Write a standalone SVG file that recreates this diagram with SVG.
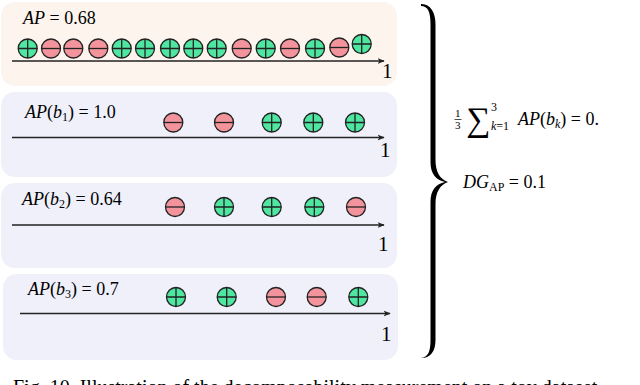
<svg xmlns="http://www.w3.org/2000/svg" xmlns:xlink="http://www.w3.org/1999/xlink" width="640" height="385" viewBox="0 0 640 385">
<style>
.math{font-family:"Liberation Serif","DejaVu Serif",serif;font-size:18px;fill:#000}
.sm{font-family:"Liberation Serif","DejaVu Serif",serif;font-size:12px;fill:#000}
.it{font-style:italic}
.one{font-family:"Liberation Serif","DejaVu Serif",serif;font-size:21px;fill:#000}
.axis{stroke:#222;stroke-width:1.5;fill:none}
.cap{font-family:"Liberation Serif","DejaVu Serif",serif;font-size:20px;fill:#000}
</style>
<defs>
<marker id="arr" viewBox="0 0 10 10" refX="9" refY="5" markerWidth="7" markerHeight="7" markerUnits="userSpaceOnUse" orient="auto">
<path d="M0,1 L10,5 L0,9 L2.5,5 Z" fill="#222"/>
</marker>
<g id="pos">
<circle r="9.5" fill="#4fe6a2" stroke="#222" stroke-width="1.3"/>
<path d="M-9.5,0 H9.5 M0,-9.5 V9.5" stroke="#222" stroke-width="1.3"/>
</g>
<g id="neg">
<circle r="9.5" fill="#f3939c" stroke="#222" stroke-width="1.3"/>
<path d="M-9.5,0 H9.5" stroke="#222" stroke-width="1.3"/>
</g>
</defs>

<g id="panel0">
<rect x="1" y="2" width="396" height="84" rx="14" fill="#fdf4ee"/>
<text class="math" x="23" y="24"><tspan class="it">AP</tspan> = 0.68</text>
<use xlink:href="#pos" x="27.7" y="48.5"/>
<use xlink:href="#neg" x="51" y="48.5"/>
<use xlink:href="#neg" x="73.3" y="48.5"/>
<use xlink:href="#neg" x="98.3" y="48.5"/>
<use xlink:href="#pos" x="121.7" y="48.5"/>
<use xlink:href="#pos" x="145" y="48.5"/>
<use xlink:href="#pos" x="170" y="48.5"/>
<use xlink:href="#pos" x="193.3" y="48.5"/>
<use xlink:href="#pos" x="216.7" y="48.5"/>
<use xlink:href="#neg" x="241.7" y="48.5"/>
<use xlink:href="#pos" x="265.7" y="48.5"/>
<use xlink:href="#neg" x="290" y="48.5"/>
<use xlink:href="#pos" x="315" y="48.5"/>
<use xlink:href="#neg" x="339.3" y="47.5"/>
<use xlink:href="#pos" x="361.7" y="44"/>
<text class="one" x="382" y="78">1</text>
</g>

<g id="panel1">
<rect x="1" y="92" width="396" height="85" rx="14" fill="#f0f0fb"/>
<text class="math" x="25" y="118"><tspan class="it">AP</tspan>(<tspan class="it">b</tspan><tspan style="font-size:12px" dy="3">1</tspan><tspan dy="-3">) = 1.0</tspan></text>
<use xlink:href="#neg" x="173.3" y="122.5"/>
<use xlink:href="#neg" x="224" y="122.5"/>
<use xlink:href="#pos" x="271.7" y="122.5"/>
<use xlink:href="#pos" x="313.3" y="122.5"/>
<use xlink:href="#pos" x="355" y="122.5"/>
<text class="one" x="380" y="157">1</text>
</g>

<g id="panel2">
<rect x="1" y="183" width="396" height="85" rx="14" fill="#f0f0fb"/>
<text class="math" x="22" y="205"><tspan class="it">AP</tspan>(<tspan class="it">b</tspan><tspan style="font-size:12px" dy="3">2</tspan><tspan dy="-3">) = 0.64</tspan></text>
<use xlink:href="#neg" x="175" y="207"/>
<use xlink:href="#pos" x="224" y="207"/>
<use xlink:href="#pos" x="271.7" y="207"/>
<use xlink:href="#pos" x="314.3" y="207"/>
<use xlink:href="#neg" x="356" y="207"/>
<text class="one" x="378" y="251">1</text>
</g>

<g id="panel3">
<rect x="3" y="274" width="395" height="86" rx="14" fill="#f0f0fb"/>
<text class="math" x="28" y="295"><tspan class="it">AP</tspan>(<tspan class="it">b</tspan><tspan style="font-size:12px" dy="3">3</tspan><tspan dy="-3">) = 0.7</tspan></text>
<use xlink:href="#pos" x="176" y="297"/>
<use xlink:href="#pos" x="226.7" y="297"/>
<use xlink:href="#neg" x="276" y="297"/>
<use xlink:href="#neg" x="316.7" y="297"/>
<use xlink:href="#pos" x="358.3" y="297"/>
<text class="one" x="381" y="341">1</text>
</g>

<g id="connectors">
<line class="axis" x1="12" y1="61" x2="384" y2="61" marker-end="url(#arr)"/>
<line class="axis" x1="12" y1="137.5" x2="384" y2="137.5" marker-end="url(#arr)"/>
<line class="axis" x1="12" y1="225" x2="384" y2="225" marker-end="url(#arr)"/>
<line class="axis" x1="20" y1="313.5" x2="390" y2="313.5" marker-end="url(#arr)"/>
</g>

<g id="brace">
<path d="M421,6 C428,6 430.5,12 430.5,24 L430.5,162 C430.5,174 436,180 445,182 C436,184 430.5,190 430.5,202 L430.5,340 C430.5,352 428,357 421,358 C430,358.5 435.5,352 435.5,340 L435.5,204 C435.5,192 440,185 448,182 C440,179 435.5,172 435.5,160 L435.5,24 C435.5,12 430,3.5 421,4 Z" fill="#000"/>
</g>

<g id="formula">
<text class="sm" x="455" y="117" style="font-size:11px">1</text>
<line x1="454.5" y1="119.5" x2="461.5" y2="119.5" stroke="#000" stroke-width="0.7"/>
<text class="sm" x="455" y="129" style="font-size:11px">3</text>
<text class="math" x="466" y="131" style="font-size:34px">∑</text>
<text class="sm" x="491" y="111">3</text>
<text class="sm" x="491" y="130"><tspan class="it">k</tspan>=1</text>
<text class="math" x="518" y="125"><tspan class="it">AP</tspan>(<tspan class="it">b</tspan><tspan class="it" style="font-size:12px" dy="3">k</tspan><tspan dy="-3">) = 0.</tspan></text>
<text class="math" x="463" y="188"><tspan class="it">DG</tspan><tspan style="font-size:12px" dy="3">AP</tspan><tspan dy="-3"> = 0.1</tspan></text>
</g>

<text class="cap" x="13" y="394">Fig. 10. Illustration of the decomposability measurement on a toy dataset</text>
</svg>
